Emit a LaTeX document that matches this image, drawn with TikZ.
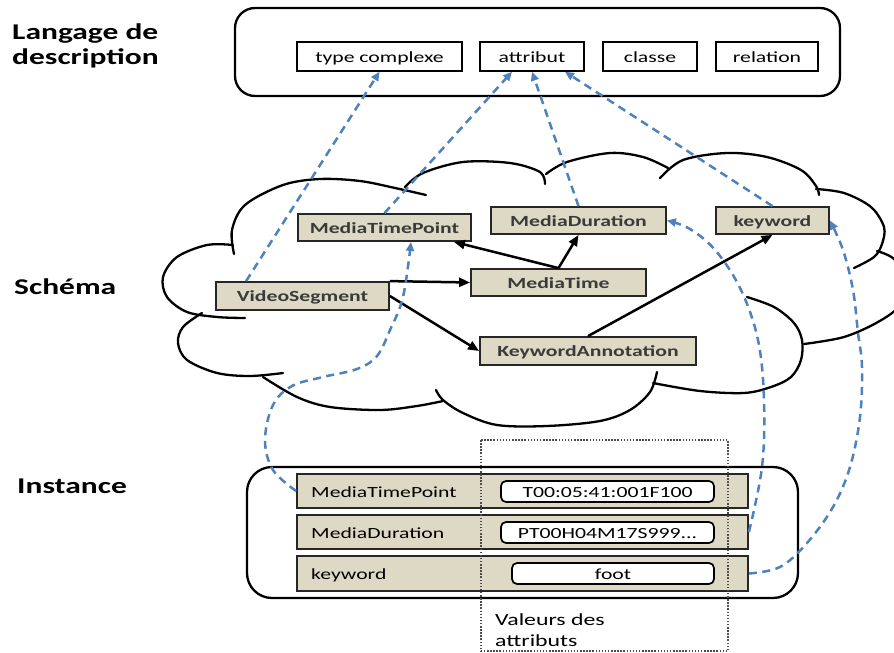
\documentclass[tikz,border=0pt]{standalone}
\usepackage{fontspec}
\setmainfont{Carlito}[FakeStretch=1.4]
\usetikzlibrary{arrows.meta,calc}

\definecolor{tanfill}{RGB}{221,217,196}
\definecolor{linkblue}{RGB}{79,129,189}
\definecolor{labelgray}{RGB}{58,58,58}

\newcommand\lblfont{\fontsize{15.5}{18}\selectfont}
\newcommand\headfont{\bfseries\fontsize{22.5}{25}\selectfont}

\begin{document}
\begin{tikzpicture}[x=1pt,y=-1pt,
  every node/.style={inner sep=0pt},
  roundframe/.style={draw=black,line width=2.3pt,rounded corners=#1},
  kindbox/.style={draw=black,line width=1.5pt,fill=white,minimum height=29pt,
    text height=11pt,text depth=0pt,font=\lblfont},
  schemabox/.style={draw=black!85,line width=1.8pt,fill=tanfill,minimum height=27pt,
    text height=11pt,text depth=0pt,font=\bfseries\lblfont,text=labelgray},
  rowbox/.style={draw=black!85,line width=1.8pt,fill=tanfill,minimum width=451pt,minimum height=34pt},
  valuebox/.style={draw=black,line width=1.7pt,fill=white,rounded corners=5pt,minimum height=21pt,
    text height=11pt,text depth=0pt,font=\lblfont},
  rowlabel/.style={anchor=base west,font=\lblfont},
  heading/.style={anchor=base west,font=\headfont,align=left},
  link/.style={draw=linkblue,line width=2.5pt,dash pattern=on 8pt off 5.5pt,
    -{Triangle[length=9pt,width=8pt]}},
  rel/.style={draw=black,line width=2.5pt,-{Triangle[length=11pt,width=9pt]}},
  cloudline/.style={draw=black,line width=2.3pt,line cap=round},
]
\useasboundingbox (0,0) rectangle (894,653);
\clip (0,0) rectangle (894,653);

% level headings (base anchor sits on the last line)
\node[heading] (hlang) at (12,64) {Langage de\\description};
\node[heading] (hschema) at (14,294) {Schéma};
\node[heading] (hinst) at (17,493) {Instance};

% description language frame
\draw[roundframe=20pt] (235,8) rectangle (840,96);
\node[kindbox,minimum width=165pt] (tc) at (379.5,56.5) {type complexe};
\node[kindbox,minimum width=104pt] (attr) at (532,56.5) {attribut};
\node[kindbox,minimum width=94pt] (cl) at (650,56.5) {classe};
\node[kindbox,minimum width=102pt] (rl) at (767,56.5) {relation};

% schema cloud, one arc per puff
\begin{scope}[cloudline]
\draw plot[smooth,tension=0.55] coordinates {(234,254) (232,230) (245,205) (283,185) (320,179) (360,181) (395,188) (426,195)};
\draw plot[smooth,tension=0.55] coordinates {(405,187) (423,173) (463,162) (510,163) (540,172) (545,184)};
\draw plot[smooth,tension=0.55] coordinates {(546,174) (567,162) (610,153) (643,157) (668,168)};
\draw plot[smooth,tension=0.55] coordinates {(660,178) (683,160) (727,153) (767,157) (801,170) (816,186) (819,195)};
\draw plot[smooth,tension=0.55] coordinates {(816,189) (844,193) (871,207) (884,227) (882,244) (874,257) (854,268)};
\draw plot[smooth,tension=0.55] coordinates {(877,251) (894,259) (906,280) (900,305) (878,322) (844,337) (804,344)};
\draw plot[smooth,tension=0.55] coordinates {(747,297) (774,307) (794,323) (802,340) (801,360) (791,377) (771,387) (744,393) (700,391) (653,383)};
\draw plot[smooth,tension=0.55] coordinates {(657,372) (650,392) (630,410) (600,421) (547,426) (497,425) (463,413) (443,400) (436,390)};
\draw plot[smooth,tension=0.55] coordinates {(443,401) (417,406) (380,410) (330,407) (297,397) (263,377)};
\draw plot[smooth,tension=0.55] coordinates {(202,313) (183,327) (178,343) (187,360) (217,373) (250,376) (283,373)};
\draw plot[smooth,tension=0.55] coordinates {(245,318) (217,317) (187,312) (167,297) (163,277) (177,257) (207,245) (233,245)};
\end{scope}

% schema elements
\node[schemabox,minimum width=173pt] (mtp) at (384.5,227.5) {MediaTimePoint};
\node[schemabox,minimum width=175pt] (md) at (578.5,220.5) {MediaDuration};
\node[schemabox,minimum width=113pt] (kw) at (772.5,220.5) {keyword};
\node[schemabox,minimum width=173pt,minimum height=28pt] (vs) at (302.5,296) {VideoSegment};
\node[schemabox,minimum width=175pt] (mt) at (558.5,282.5) {MediaTime};
\node[schemabox,minimum width=216pt,minimum height=28pt] (ka) at (588,351) {KeywordAnnotation};

% structural relations inside the schema
\draw[rel] (mt.north) -- ($(mtp.south east)+(-18,0)$);
\draw[rel] (mt.north) -- (md.south);
\draw[rel] (vs.north east) -- (mt.west);
\draw[rel] (vs.east) -- (ka.west);
\draw[rel] (ka.north) -- (kw.south);

% instance frame
\draw[roundframe=25pt] (247,467) rectangle (798,598);
\node[rowbox] (r1) at (522.5,491) {};
\node[rowbox] (r2) at (522.5,532) {};
\node[rowbox,minimum height=35pt] (r3) at (522.5,573.5) {};
\node[rowlabel] (l1) at (311,497) {MediaTimePoint};
\node[rowlabel] (l2) at (311,538) {MediaDuration};
\node[rowlabel] (l3) at (311,579) {keyword};
\node[valuebox,minimum width=213pt] (v1) at (607.5,491.5) {T00:05:41:001F100};
\node[valuebox,minimum width=213pt] (v2) at (607.5,532.5) {PT00H04M17S999...};
\node[valuebox,minimum width=202pt] (v3) at (613,573.5) {foot};

% attribute values region
\draw[draw=black!70,line width=1.4pt,dash pattern=on 1.5pt off 1.6pt] (481,440) rectangle (728,651);
\node[anchor=base west,align=left,font=\fontsize{17}{21}\selectfont] (vals) at (495,646) {Valeurs des\\attributs};

% typing links towards the description language
\draw[link] ($(vs.north west)+(31,0)$) -- (tc.south);
\draw[link] (mtp.north) -- ($(attr.south)+(-20,0)$);
\draw[link] (md.north) -- (attr.south);
\draw[link] (kw.north) -- ($(attr.south)+(33,0)$);

% instantiation links from instance rows to schema elements
\draw[link] plot[smooth,tension=0.6] coordinates {(r1.west) (273,470) (265,440) (273,405) (292,386) (323,377) (357,369) (377,356) (390,330) (403,297) (411,242)};
\draw[link] plot[smooth,tension=0.6] coordinates {(r2.east) (762,467) (764,400) (758,340) (741,290) (716,251) (690,229) (md.east)};
\draw[link] plot[smooth,tension=0.6] coordinates {(r3.east) (780,567) (807,543) (833,507) (850,467) (860,417) (862,367) (858,333) (853,290) (843,250) (kw.east)};
\end{tikzpicture}
\end{document}
